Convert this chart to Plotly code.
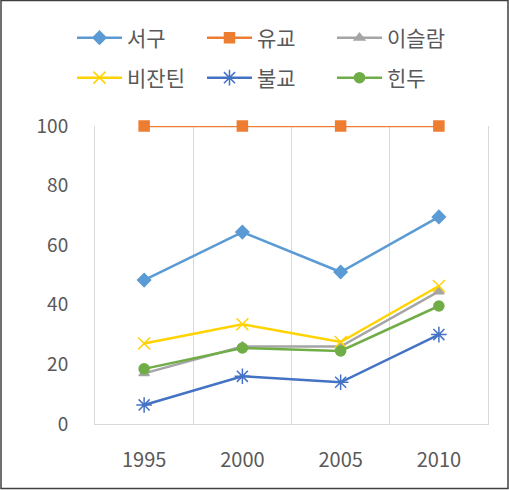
import plotly.graph_objects as go

years = ["1995", "2000", "2005", "2010"]
series_names = ["서구", "유교", "이슬람", "비잔틴", "불교", "힌두"]
western = [48.3, 64.4, 51.0, 69.5]
confucian = [100, 100, 100, 100]
islam = [17.0, 26.0, 26.0, 44.5]
byzantine = [27.0, 33.5, 27.5, 46.3]
buddhist = [6.4, 16.0, 14.0, 30.0]
hindu = [18.5, 25.5, 24.5, 39.6]
y_ticks = [0, 20, 40, 60, 80, 100]

values = [western, confucian, islam, byzantine, buddhist, hindu]
colors = ["#5B9BD5", "#ED7D31", "#A5A5A5", "#FFD200", "#4472C4", "#70AD47"]
symbols = ["diamond", "square", "triangle-up", "x-thin-open", "asterisk-open", "circle"]
sizes = [10, 10, 9, 12, 13, 10]
legend_ids = ["legend", "legend", "legend", "legend2", "legend2", "legend2"]

W, H = 509, 490
ML, MR, MT, MB = 95, 21, 126, 66
PW, PH = W - ML - MR, H - MT - MB

def px(x):
    return (x - ML) / PW

def py(y):
    return (H - MB - y) / PH

fig = go.Figure()
for name, vals, c, s, sz, lg in zip(series_names, values, colors, symbols, sizes, legend_ids):
    fig.add_trace(go.Scatter(
        x=years, y=vals, name=name, mode="lines+markers",
        line=dict(color=c, width=2.5),
        marker=dict(symbol=s, size=sz, color=c, line=dict(color=c, width=1.5)),
        cliponaxis=False, legend=lg,
    ))

legend_common = dict(
    orientation="h", xanchor="left", yanchor="middle",
    entrywidth=70, entrywidthmode="pixels",
    font=dict(size=21, color="#595959"),
    bgcolor="rgba(0,0,0,0)", itemwidth=45,
)

fig.update_layout(
    width=W, height=H,
    margin=dict(l=ML, r=MR, t=MT, b=MB),
    paper_bgcolor="white", plot_bgcolor="white",
    font=dict(family="Noto Sans CJK KR, Noto Sans, sans-serif", color="#595959", size=18),
    showlegend=True,
    legend=dict(x=px(72), y=py(38), **legend_common),
    legend2=dict(x=px(72), y=py(78), **legend_common),
    xaxis=dict(
        type="category", range=[-0.5, 3.5], tickson="boundaries", showgrid=True,
        gridcolor="#D9D9D9", gridwidth=1, showline=True, linecolor="#D9D9D9",
        linewidth=1, ticks="", tickfont=dict(size=20, color="#595959"),
        ticklabelstandoff=18, zeroline=False,
    ),
    yaxis=dict(
        range=[0, 100], tickvals=y_ticks, showgrid=False, zeroline=False,
        showline=True, mirror=True, linecolor="#D9D9D9", linewidth=1,
        ticks="", tickfont=dict(size=19, color="#595959"),
        ticklabelstandoff=22,
    ),
    shapes=[dict(
        type="rect", xref="paper", yref="paper",
        x0=px(1), x1=px(508), y0=py(488.5), y1=py(0.5),
        line=dict(color="#404040", width=1.5), fillcolor="rgba(0,0,0,0)", layer="below",
    )],
)

fig.write_html("out.html")
